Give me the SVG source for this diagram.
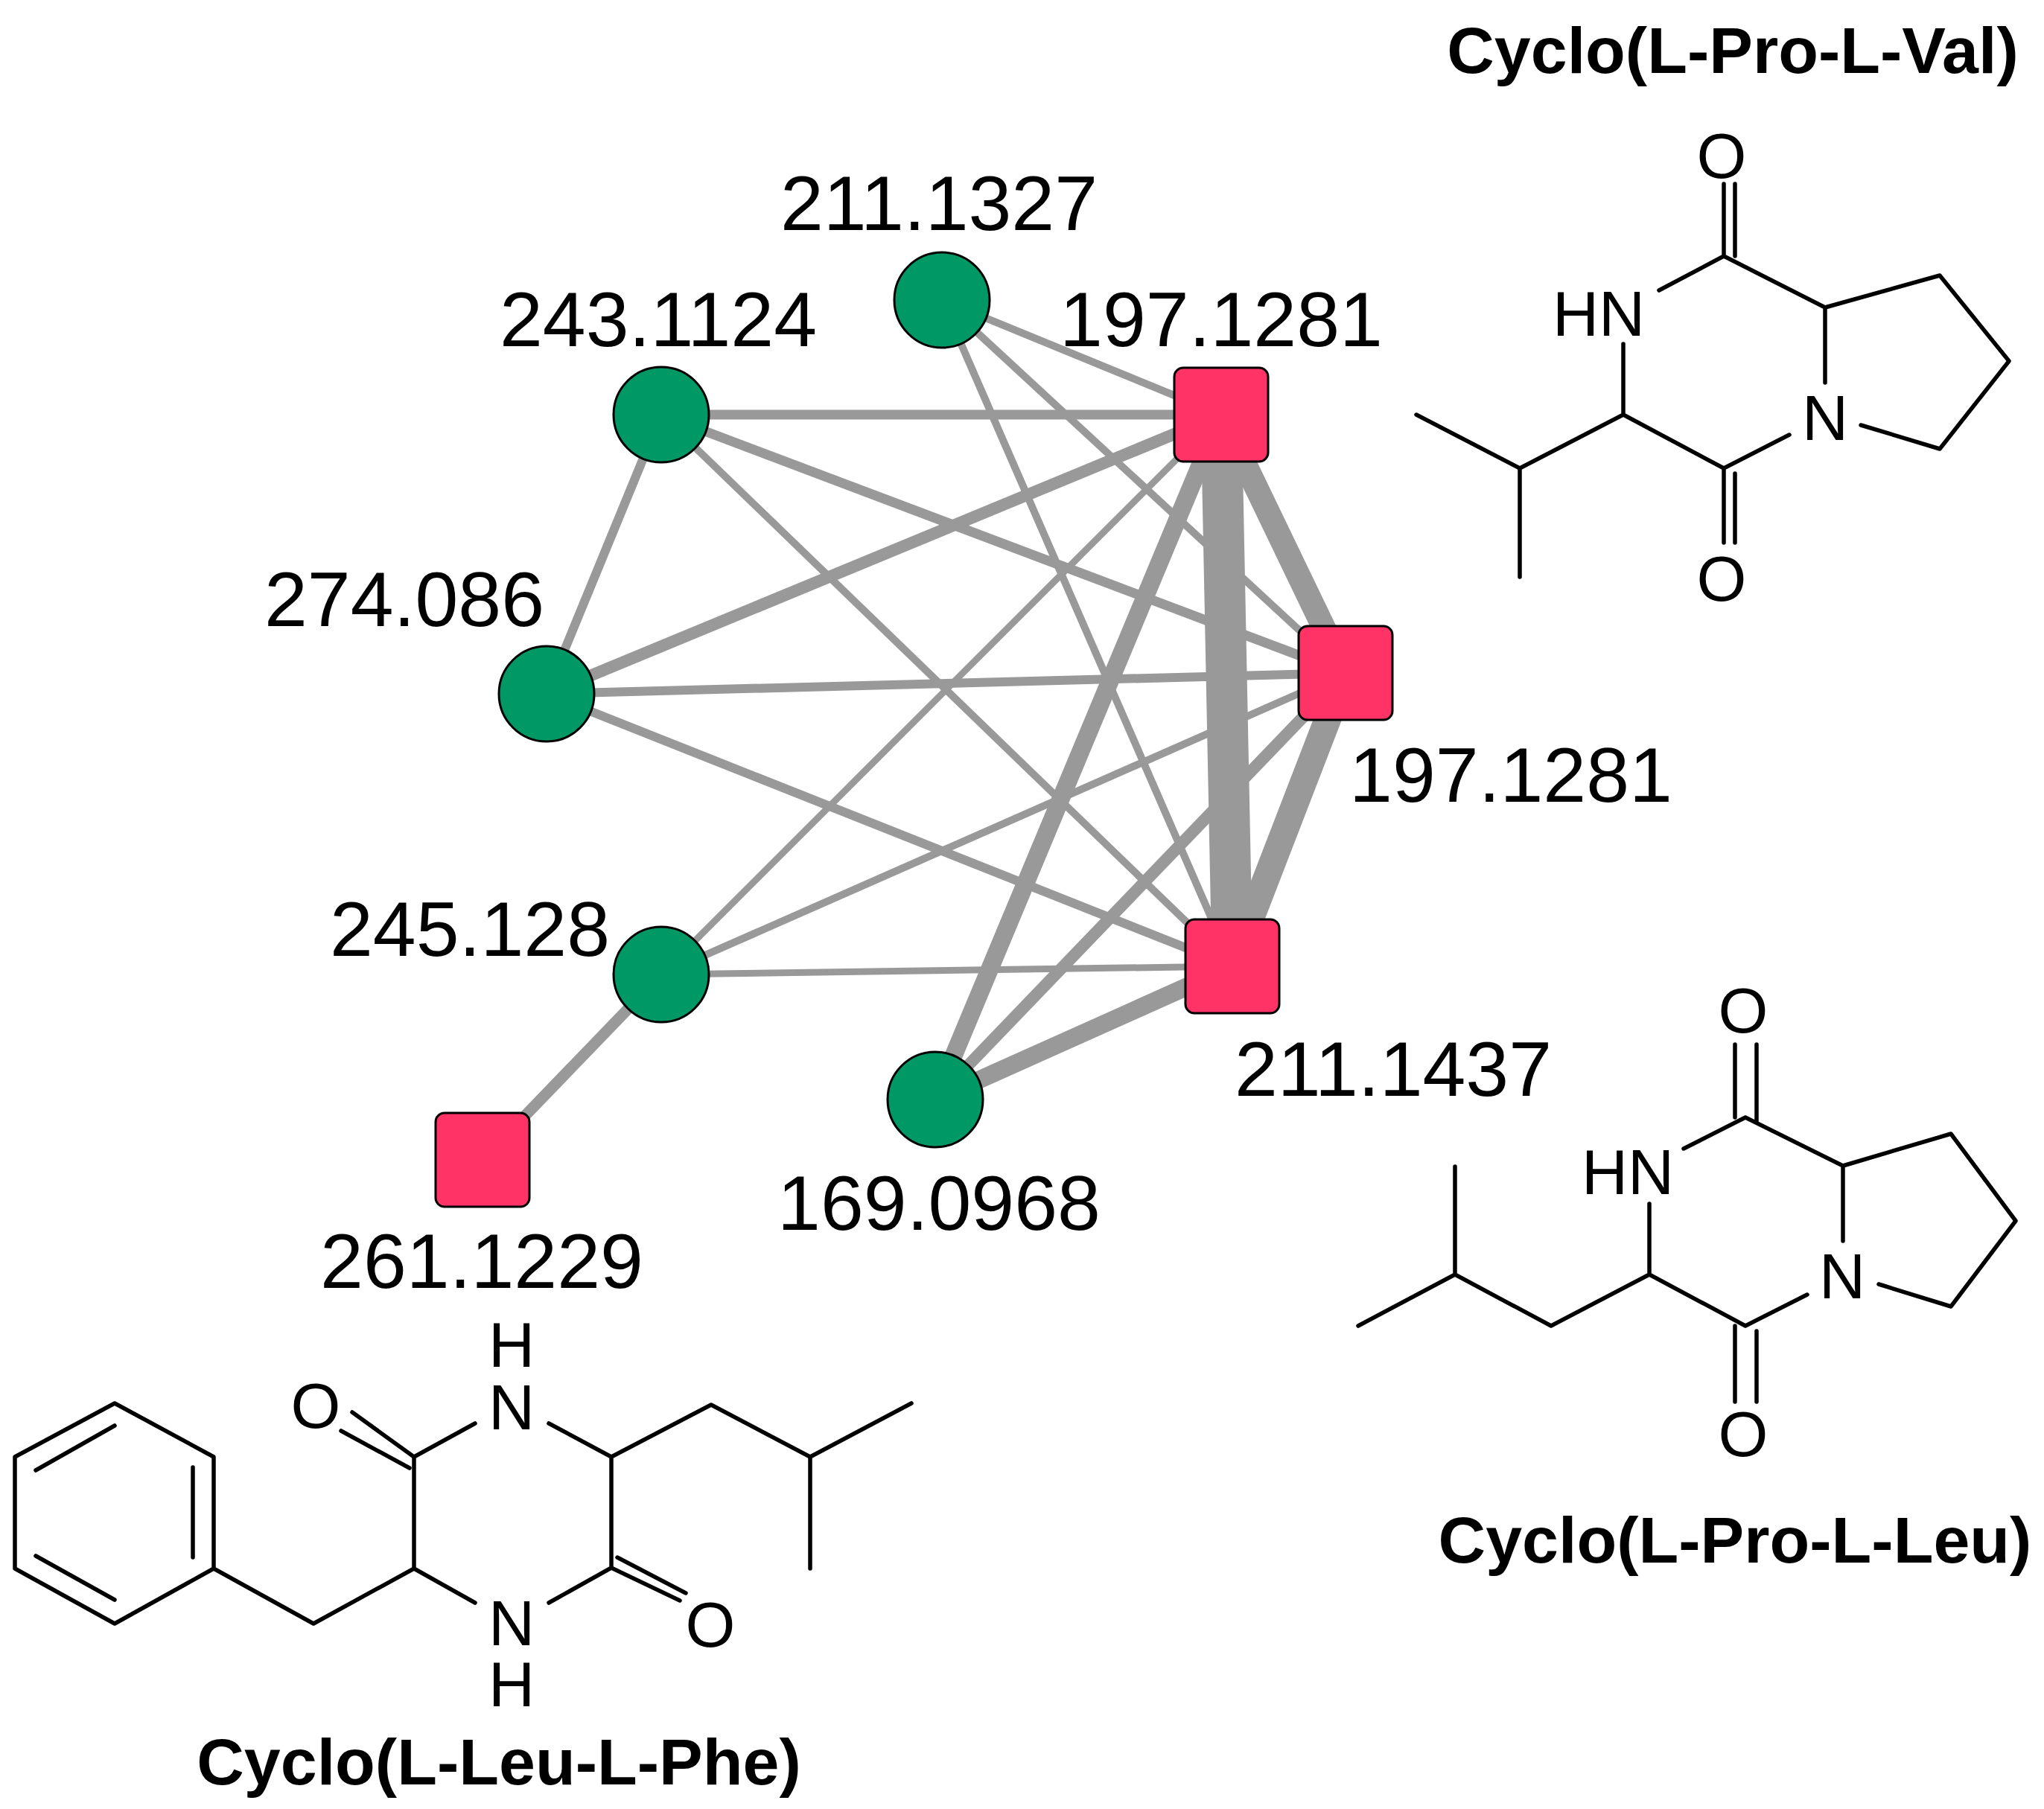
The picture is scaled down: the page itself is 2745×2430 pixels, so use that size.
<svg xmlns="http://www.w3.org/2000/svg" width="2745" height="2430" viewBox="0 0 2745 2430">
<style>
.e{stroke:#999999;fill:none}
.c{fill:#009966;stroke:#000;stroke-width:3}
.s{fill:#ff3366;stroke:#000;stroke-width:3}
.l{font-family:"Liberation Sans",Arial,sans-serif;font-size:104px;fill:#000;text-anchor:middle}
.a{font-family:"Liberation Sans",Arial,sans-serif;font-size:86px;fill:#000;text-anchor:middle}
.t{font-family:"Liberation Sans",Arial,sans-serif;font-size:88px;font-weight:bold;fill:#000;text-anchor:middle}
.b{stroke:#000;stroke-width:5.5;fill:none;stroke-linecap:round;stroke-linejoin:round}
</style>
<rect width="2745" height="2430" fill="#fff"/>
<g id="connectors">
<line class="e" x1="1265" y1="403" x2="1640" y2="557" stroke-width="10"/>
<line class="e" x1="1265" y1="403" x2="1807" y2="904" stroke-width="10"/>
<line class="e" x1="1265" y1="403" x2="1655" y2="1298" stroke-width="10"/>
<line class="e" x1="888" y1="557" x2="1640" y2="557" stroke-width="13"/>
<line class="e" x1="888" y1="557" x2="1807" y2="904" stroke-width="13"/>
<line class="e" x1="888" y1="557" x2="1655" y2="1298" stroke-width="10"/>
<line class="e" x1="888" y1="557" x2="734" y2="932" stroke-width="12"/>
<line class="e" x1="734" y1="932" x2="1640" y2="557" stroke-width="16"/>
<line class="e" x1="734" y1="932" x2="1807" y2="904" stroke-width="12"/>
<line class="e" x1="734" y1="932" x2="1655" y2="1298" stroke-width="12"/>
<line class="e" x1="888" y1="1309" x2="1640" y2="557" stroke-width="9"/>
<line class="e" x1="888" y1="1309" x2="1807" y2="904" stroke-width="10"/>
<line class="e" x1="888" y1="1309" x2="1655" y2="1298" stroke-width="9"/>
<line class="e" x1="888" y1="1309" x2="648" y2="1558" stroke-width="15"/>
<line class="e" x1="1256" y1="1477" x2="1640" y2="557" stroke-width="24"/>
<line class="e" x1="1256" y1="1477" x2="1807" y2="904" stroke-width="16"/>
<line class="e" x1="1256" y1="1477" x2="1655" y2="1298" stroke-width="24"/>
<line class="e" x1="1640" y1="557" x2="1807" y2="904" stroke-width="32"/>
<line class="e" x1="1640" y1="557" x2="1655" y2="1298" stroke-width="55"/>
<line class="e" x1="1807" y1="904" x2="1655" y2="1298" stroke-width="36"/>
</g>
<g id="n211_1327"><circle class="c" cx="1265" cy="403" r="64"/><text class="l" x="1261" y="309">211.1327</text></g>
<g id="n243_1124"><circle class="c" cx="888" cy="557" r="64"/><text class="l" x="884" y="465">243.1124</text></g>
<g id="n274_086"><circle class="c" cx="734" cy="932" r="64"/><text class="l" x="543" y="841">274.086</text></g>
<g id="n245_128"><circle class="c" cx="888" cy="1309" r="64"/><text class="l" x="631" y="1284">245.128</text></g>
<g id="n169_0968"><circle class="c" cx="1256" cy="1477" r="64"/><text class="l" x="1261" y="1652">169.0968</text></g>
<g id="n197_1281a"><rect class="s" x="1577" y="494" width="126" height="126" rx="12"/><text class="l" x="1640" y="465">197.1281</text></g>
<g id="n197_1281b"><rect class="s" x="1744" y="841" width="126" height="126" rx="12"/><text class="l" x="2029" y="1077">197.1281</text></g>
<g id="n211_1437"><rect class="s" x="1592" y="1235" width="126" height="126" rx="12"/><text class="l" x="1871" y="1472">211.1437</text></g>
<g id="n261_1229"><rect class="s" x="585" y="1495" width="126" height="126" rx="12"/><text class="l" x="647" y="1730">261.1229</text></g>
<g id="val">
<text class="t" x="2327" y="98">Cyclo(L-Pro-L-Val)</text>
<text class="a" x="2312" y="239">O</text>
<text class="a" x="2147" y="451">HN</text>
<text class="a" x="2451" y="591">N</text>
<text class="a" x="2312" y="807">O</text>
<path class="b" d="M2315 247V344M2330 247V344M2315 344L2228 390M2315 344L2451 413V514M2451 413L2605 370L2698 485L2605 603L2499 571M2403 584L2315 629L2180 557V462M2315 629V729M2330 636V729M2180 557L2041 629L1902 557M2041 629V775"/>
</g>
<g id="leu">
<text class="a" x="2341" y="1387">O</text>
<text class="a" x="2186" y="1604">HN</text>
<text class="a" x="2474" y="1744">N</text>
<text class="a" x="2341" y="1956">O</text>
<text class="t" x="2330" y="2099">Cyclo(L-Pro-L-Leu)</text>
<path class="b" d="M2330 1403V1501M2359 1403V1508M2344 1501L2261 1543M2344 1501L2475 1566V1667M2475 1566L2620 1523L2707 1640L2620 1755L2523 1725M2427 1739L2344 1781L2215 1712V1617M2330 1781V1883M2359 1788V1883M2215 1712L2083 1781L1954 1712L1824 1781M1954 1712V1567"/>
</g>
<g id="phe">
<text class="a" x="687" y="1836">H</text>
<text class="a" x="687" y="1920">N</text>
<text class="a" x="424" y="1918">O</text>
<text class="a" x="687" y="2210">N</text>
<text class="a" x="687" y="2292">H</text>
<text class="a" x="954" y="2212">O</text>
<text class="t" x="670" y="2397">Cyclo(L-Leu-L-Phe)</text>
<path class="b" d="M638 1912L556 1957V2107L638 2153M737 2153L821 2106V1957L737 1912M473 1897L556 1957M458 1922L550 1972M821 2106L913 2150M829 2092L921 2140M821 1957L955 1887L1088 1957L1224 1885M1088 1957V2107M556 2107L421 2181L287 2107V1957L154 1885L20 1957V2107L154 2181L287 2107M259 1971V2092M48 1975L154 1915M48 2090L154 2149"/>
</g>
</svg>
